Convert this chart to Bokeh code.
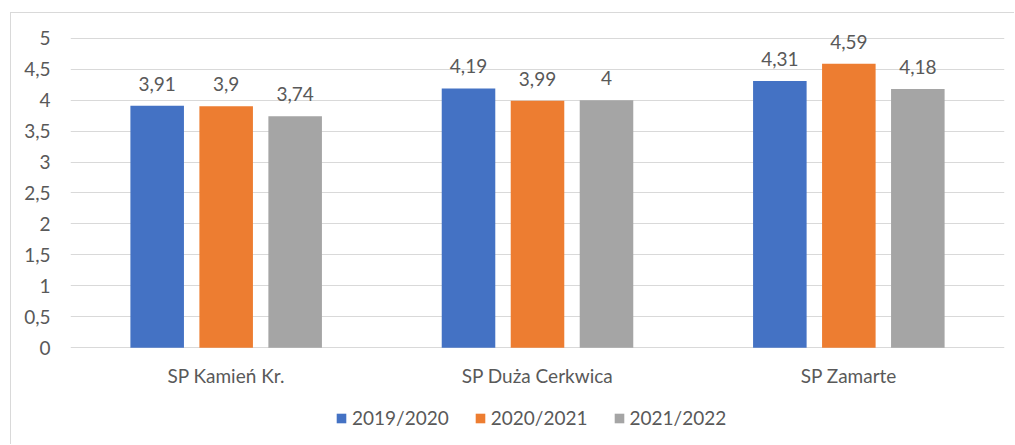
from bokeh.plotting import figure
from bokeh.models import (ColumnDataSource, FactorRange, Range1d, FixedTicker,
                          CustomJSTickFormatter, LabelSet, Legend, LegendItem)
from bokeh.transform import dodge
from bokeh.embed import file_html
from bokeh.resources import INLINE
from bokeh.core.properties import value

categories = ["SP Kamień Kr.", "SP Duża Cerkwica", "SP Zamarte"]
series_names = ["2019/2020", "2020/2021", "2021/2022"]
v2019 = [3.91, 4.19, 4.31]
v2020 = [3.90, 3.99, 4.59]
v2021 = [3.74, 4.00, 4.18]
y_ticks = [0, 0.5, 1, 1.5, 2, 2.5, 3, 3.5, 4, 4.5, 5]

colors = ["#4472C4", "#ED7D31", "#A5A5A5"]
FONT = "Lato"
TXT = "#595959"

def fmt(v):
    return f"{v:g}".replace(".", ",")

src = ColumnDataSource(dict(
    cat=categories,
    a=v2019, b=v2020, c=v2021,
    la=[fmt(v) for v in v2019],
    lb=[fmt(v) for v in v2020],
    lc=[fmt(v) for v in v2021],
))

# frame extends beyond 0..5 so that labels and legend sit inside it (gridlines only at ticks)
p = figure(width=1004, height=432, x_range=FactorRange(factors=categories, range_padding=0),
           y_range=Range1d(-1.58, 5.4), output_backend="svg", toolbar_location=None,
           min_border_left=59, min_border_right=11, min_border_top=0, min_border_bottom=0)
p.styles = {"margin-left": "10px", "margin-top": "12px",
            "border-left": "1px solid #d9d9d9", "border-top": "1px solid #d9d9d9"}

p.outline_line_color = None
p.background_fill_color = "white"
p.border_fill_color = "white"
p.xgrid.grid_line_color = None
p.ygrid.grid_line_color = "#D9D9D9"
p.ygrid.grid_line_width = 1

p.yaxis.ticker = FixedTicker(ticks=y_ticks)
p.yaxis.formatter = CustomJSTickFormatter(code="return tick.toString().replace('.', ',');")
p.xaxis.fixed_location = 0
for ax in (p.xaxis, p.yaxis):
    ax.axis_line_color = None
    ax.major_tick_line_color = None
    ax.minor_tick_line_color = None
    ax.major_tick_out = 0
    ax.major_tick_in = 0
    ax.major_label_text_font = FONT
    ax.major_label_text_font_size = "19px"
    ax.major_label_text_color = TXT
p.yaxis.major_label_standoff = 20
p.xaxis.major_label_standoff = 16

off = 0.2216
w = 0.172
keys = ["a", "b", "c"]
lkeys = ["la", "lb", "lc"]
offsets = [-off, 0, off]
items = []
for k, lk, o, col, name in zip(keys, lkeys, offsets, colors, series_names):
    r = p.vbar(x=dodge("cat", o, range=p.x_range), top=k, width=w, source=src,
               fill_color=col, line_color=None)
    items.append(LegendItem(label=name, renderers=[r]))
    lab = LabelSet(x=dodge("cat", o, range=p.x_range), y=k, text=lk, source=src,
                   text_align="center", text_baseline="alphabetic", y_offset=15,
                   text_font=value(FONT), text_font_size="19px", text_color=TXT)
    p.add_layout(lab)

legend = Legend(items=items, orientation="horizontal", location=(265, 16),
                border_line_color=None, background_fill_alpha=0,
                padding=0, margin=0, spacing=25, label_standoff=5,
                glyph_width=12, glyph_height=12,
                label_text_font=FONT, label_text_font_size="19px", label_text_color=TXT)
p.add_layout(legend, "center")

open("out.html", "w").write(file_html(p, INLINE))
